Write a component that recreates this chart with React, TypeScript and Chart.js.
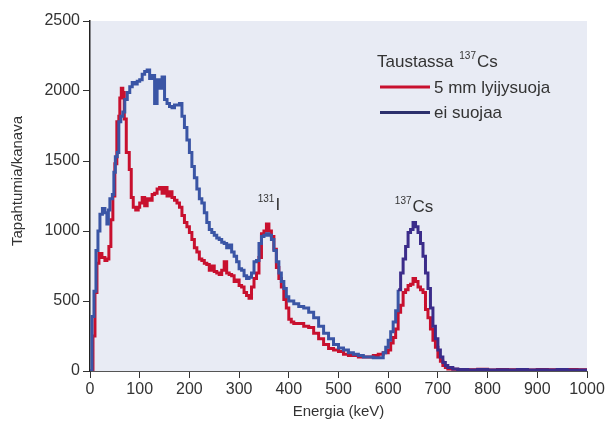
import React, { useEffect, useRef } from "react";
import { Chart, registerables } from "chart.js";

Chart.register(...registerables);

const blueEnergy = [0,4,8,12,16,20,25,30,34,37,40,45,48,51,55,58,62,66,70,75,80,85,90,95,100,105,110,115,120,125,130,135,140,145,150,155,160,165,170,180,185,190,195,200,205,210,215,220,225,230,235,240,245,250,255,260,265,270,275,280,285,290,295,300,305,310,315,320,325,330,335,340,345,350,355,360,365,370,375,380,385,390,395,400,410,420,430,440,450,460,470,480,490,500,510,520,530,540,550,560,570,580,590,595,600,605,610,615,620,625,630,635,640,645,650,655,660,665,670,675,680,685,690,695,700,705,710,715,720,730,740,760,780,800,820,840,860,880,900,920,940,960,980,1000];
const blueCounts = [0,390,570,860,1000,1120,1160,1130,1050,1150,1230,1260,1420,1530,1560,1780,1820,1850,1940,1990,2030,2060,2050,2070,2080,2120,2140,2150,2090,2110,1910,2080,2020,2100,1940,1910,1890,1880,1900,1910,1820,1740,1650,1560,1460,1380,1300,1230,1200,1130,1060,1010,990,970,950,940,920,910,880,900,850,820,780,730,720,680,660,670,700,780,790,910,960,970,980,970,940,860,780,700,640,590,530,500,480,460,450,420,380,320,270,230,190,165,150,130,120,110,100,100,95,95,130,170,220,280,350,430,580,700,800,890,990,1010,1060,1030,990,910,820,700,590,450,320,230,150,100,60,40,25,15,10,8,10,7,9,8,10,7,9,8,10,8,7,7];

const redEnergy = [0,6,10,14,18,24,30,34,38,42,46,50,54,58,60,63,66,69,73,79,83,87,92,97,100,105,110,115,120,125,130,135,140,145,150,155,160,165,170,175,180,185,190,195,200,205,210,215,220,225,230,235,240,245,250,255,260,265,270,275,280,285,290,295,300,305,310,315,320,325,330,335,340,345,350,355,360,365,370,375,380,385,390,395,400,405,410,420,430,440,450,460,470,480,490,500,510,520,530,540,550,560,570,580,590,600,605,610,615,620,625,630,635,640,645,650,655,660,665,670,675,680,685,690,695,700,705,710,715,720,730,740,760,780,800,820,840,860,880,900,920,940,960,980,1000];
const redCounts = [0,250,560,770,840,810,790,800,890,1080,1250,1480,1780,1820,1950,2020,1990,1800,1560,1440,1240,1170,1150,1170,1200,1240,1180,1230,1220,1260,1270,1300,1310,1270,1310,1250,1280,1240,1220,1200,1170,1110,1060,1030,990,940,880,850,800,790,770,760,720,750,710,700,690,720,780,700,690,680,640,650,610,600,560,540,520,600,660,700,810,980,1000,1050,1000,960,870,740,660,600,510,450,370,350,340,340,320,310,270,230,190,160,150,140,120,110,110,100,100,100,110,120,130,150,200,240,300,420,470,560,580,610,620,660,640,600,580,560,440,380,300,220,170,100,70,40,25,15,12,10,9,12,8,10,9,11,8,10,9,8,10,9,8];

const seriesLabels = ["5 mm lyijysuoja", "ei suojaa"];
const legendTitle = "Taustassa";
const legendIsotope = "Cs";
const legendMass = "137";
const peakLabels = [
  { mass: "131", sym: "I", energy: 373, count: 1150 },
  { mass: "137", sym: "Cs", energy: 649, count: 1135 },
];
const xTitle = "Energia (keV)";
const yTitle = "Tapahtumia/kanava";

const FONT = "'Liberation Sans', Arial, sans-serif";
const RED = "#c8102e";
const BLUE = "#3a55a5";
const PURPLE = "#3b2c8a";
const NAVY = "#2b2f6c";
const TEXT = "#333333";

function drawSup(ctx: CanvasRenderingContext2D, x: number, baseline: number, sup: string, main: string, mainSize: number, supSize: number) {
  ctx.textBaseline = "alphabetic";
  ctx.font = `${mainSize}px ${FONT}`;
  ctx.textAlign = "left";
  ctx.fillText(main, x, baseline);
  ctx.font = `${supSize}px ${FONT}`;
  ctx.textAlign = "right";
  ctx.fillText(sup, x - 1, baseline - mainSize * 0.47);
}

const bgPlugin = {
  id: "bgPlugin",
  beforeDraw(chart: any) {
    const { ctx, chartArea: a } = chart;
    ctx.save();
    ctx.fillStyle = "#e8ebf4";
    ctx.fillRect(a.left, a.top, a.right - a.left, a.bottom - a.top);
    ctx.restore();
  },
};

const overlayPlugin = {
  id: "overlayPlugin",
  afterDraw(chart: any) {
    const { ctx, chartArea: a, scales } = chart;
    ctx.save();
    ctx.fillStyle = TEXT;
    for (const p of peakLabels) {
      const px = scales.x.getPixelForValue(p.energy);
      const py = scales.y.getPixelForValue(p.count);
      drawSup(ctx, px, py, p.mass, p.sym, 17, 10);
    }
    const lx = a.left + 287;
    const ly = a.top + 46;
    ctx.font = `17px ${FONT}`;
    ctx.textAlign = "left";
    ctx.textBaseline = "alphabetic";
    ctx.fillText(legendTitle, lx, ly);
    const tw = ctx.measureText(legendTitle + " ").width;
    ctx.font = `10px ${FONT}`;
    const sw = ctx.measureText(legendMass).width;
    drawSup(ctx, lx + tw + sw + 2, ly, legendMass, legendIsotope, 17, 10);
    const colors = [RED, NAVY];
    seriesLabels.forEach((lab, i) => {
      const yy = ly + 20 + i * 25.5;
      ctx.strokeStyle = colors[i];
      ctx.lineWidth = 3;
      ctx.beginPath();
      ctx.moveTo(lx + 3, yy);
      ctx.lineTo(lx + 53, yy);
      ctx.stroke();
      ctx.fillStyle = TEXT;
      ctx.font = `17px ${FONT}`;
      ctx.textAlign = "left";
      ctx.textBaseline = "middle";
      ctx.fillText(lab, lx + 57, yy + 1);
    });
    ctx.translate(18, 181);
    ctx.rotate(-Math.PI / 2);
    ctx.font = `15px ${FONT}`;
    ctx.textAlign = "center";
    ctx.textBaseline = "middle";
    ctx.fillStyle = TEXT;
    ctx.fillText(yTitle, 0, 0);
    ctx.restore();
  },
};

export default function App() {
  const ref = useRef<HTMLCanvasElement | null>(null);
  useEffect(() => {
    if (!ref.current) return;
    const toXY = (xs: number[], ys: number[]) => xs.map((x, i) => ({ x, y: ys[i] }));
    const plain = (v: any) => String(v);
    const chart = new Chart(ref.current, {
      type: "line",
      data: {
        datasets: [
          {
            label: seriesLabels[1],
            data: toXY(blueEnergy, blueCounts),
            borderColor: BLUE,
            borderWidth: 3,
            stepped: true,
            pointRadius: 0,
            fill: false,
            order: 0,
            segment: {
              borderColor: (c: any) => (c.p0.parsed.x >= 618 ? PURPLE : BLUE),
            },
          },
          {
            label: seriesLabels[0],
            data: toXY(redEnergy, redCounts),
            borderColor: RED,
            borderWidth: 3,
            stepped: true,
            pointRadius: 0,
            fill: false,
            order: 1,
          },
        ],
      },
      options: {
        responsive: false,
        animation: false,
        layout: { padding: { left: 0, top: 21, right: 23, bottom: 0 } },
        plugins: { legend: { display: false }, tooltip: { enabled: false } },
        scales: {
          x: {
            type: "linear",
            min: 0,
            max: 1000,
            afterFit: (s: any) => { s.height = 50; },
            ticks: { stepSize: 100, autoSkip: false, maxRotation: 0, color: TEXT, font: { size: 16, family: FONT }, padding: 2, callback: plain },
            grid: { drawOnChartArea: false, drawTicks: true, tickLength: 7, tickColor: "#333", tickWidth: 1 },
            border: { display: true, color: "#555", width: 1 },
            title: { display: true, text: xTitle, color: TEXT, font: { size: 15, family: FONT }, padding: { top: 0, bottom: 0 } },
          },
          y: {
            type: "linear",
            min: 0,
            max: 2500,
            afterFit: (s: any) => { s.width = 90; },
            ticks: { stepSize: 500, color: TEXT, font: { size: 16, family: FONT }, padding: 3, callback: plain },
            grid: { drawOnChartArea: false, drawTicks: true, tickLength: 7, tickColor: "#333", tickWidth: 1 },
            border: { display: true, color: "#222", width: 1.5 },
          },
        },
      },
      plugins: [bgPlugin, overlayPlugin],
    });
    return () => chart.destroy();
  }, []);
  return (
    <div style={{ position: "absolute", left: 0, top: 0, width: 610, height: 421, background: "#fff" }}>
      <canvas ref={ref} width={610} height={421} style={{ display: "block" }} />
    </div>
  );
}
